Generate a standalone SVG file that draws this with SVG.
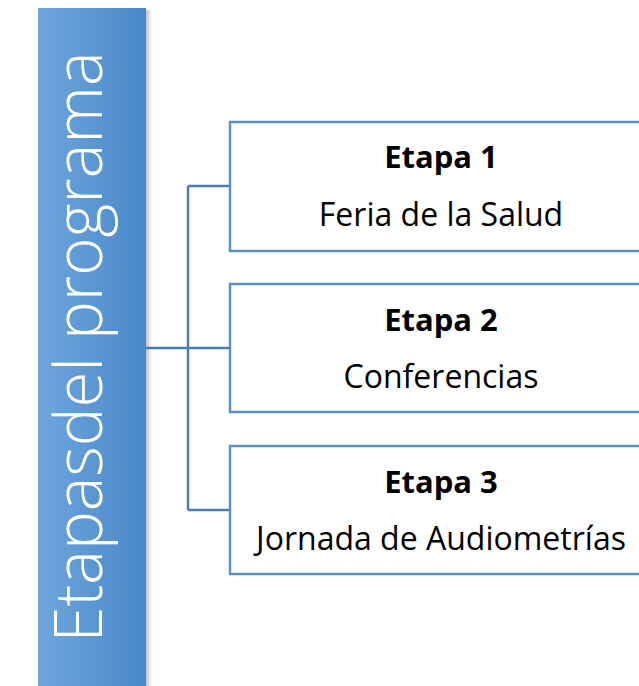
<svg xmlns="http://www.w3.org/2000/svg" width="639" height="686" viewBox="0 0 639 686">
<style>
.box{fill:#fff;stroke:#5b8fcc;stroke-width:2.5}
.conn{fill:none;stroke:#4a7db4;stroke-width:2.5}
.t1{font-family:"Open Sans","Liberation Sans",sans-serif;font-size:31px;font-weight:bold;fill:#000;text-anchor:middle}
.t2{font-family:"Open Sans","Liberation Sans",sans-serif;font-size:32px;fill:#000;text-anchor:middle}
</style>
<defs>
<linearGradient id="bg" x1="0" y1="0" x2="1" y2="0">
<stop offset="0" stop-color="#6fa6dd"/>
<stop offset="1" stop-color="#4888c8"/>
</linearGradient>
<linearGradient id="sh" x1="0" y1="0" x2="1" y2="0">
<stop offset="0" stop-color="#000" stop-opacity="0.25"/>
<stop offset="1" stop-color="#000" stop-opacity="0"/>
</linearGradient>
</defs>
<g id="bar">
<rect x="146" y="10" width="6" height="676" fill="url(#sh)"/>
<rect x="38" y="8" width="108" height="678" fill="url(#bg)"/>
<text transform="translate(102,347) rotate(-90)" font-family="Open Sans,Liberation Sans,sans-serif" font-size="66" font-weight="300" fill="#fff" text-anchor="middle" textLength="591" lengthAdjust="spacingAndGlyphs">Etapasdel programa</text>
</g>
<g id="connectors">
<path class="conn" d="M146 348 H230 M188 186 V510 M188 186 H230 M188 510 H230"/>
</g>
<g id="etapa1">
<rect class="box" x="230" y="122" width="430" height="129"/>
<text class="t1" x="441" y="168">Etapa 1</text>
<text class="t2" x="441" y="226">Feria de la Salud</text>
</g>
<g id="etapa2">
<rect class="box" x="230" y="284" width="430" height="128"/>
<text class="t1" x="441" y="331">Etapa 2</text>
<text class="t2" x="441" y="388">Conferencias</text>
</g>
<g id="etapa3">
<rect class="box" x="230" y="446" width="430" height="128"/>
<text class="t1" x="441" y="493">Etapa 3</text>
<text class="t2" x="441" y="550">Jornada de Audiometrías</text>
</g>
</svg>
